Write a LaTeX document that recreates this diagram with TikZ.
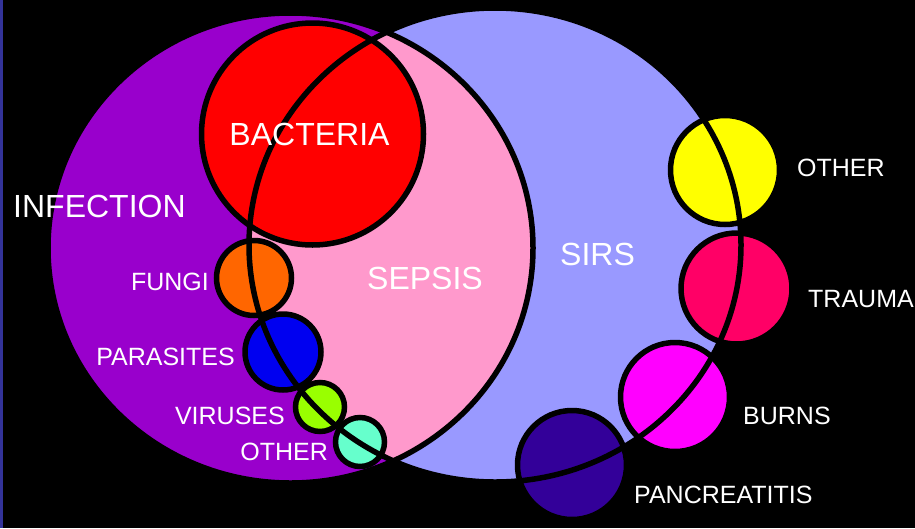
\documentclass[tikz,border=0pt]{standalone}
\usepackage{fontspec}
\setmainfont{Liberation Sans}
\definecolor{bgstrip}{RGB}{51,51,153}
\definecolor{infect}{RGB}{153,0,204}
\definecolor{sirs}{RGB}{153,153,255}
\definecolor{sepsis}{RGB}{255,153,204}
\definecolor{cbact}{RGB}{255,0,0}
\definecolor{cfungi}{RGB}{255,102,0}
\definecolor{cpara}{RGB}{0,0,240}
\definecolor{cvir}{RGB}{153,255,0}
\definecolor{cothl}{RGB}{102,255,204}
\definecolor{cothr}{RGB}{255,255,0}
\definecolor{ctrau}{RGB}{255,0,102}
\definecolor{cburn}{RGB}{255,0,255}
\definecolor{cpanc}{RGB}{51,0,153}
\tikzset{
  outline/.style={draw=black, line width=5.5pt},
  biglabel/.style={text=white, inner sep=0pt, font=\fontsize{32}{32}\selectfont},
  smalllabel/.style={text=white, inner sep=0pt, font=\fontsize{25}{25}\selectfont},
  blob/.style={circle, outline, inner sep=0pt, minimum size=#1}
}
\begin{document}
\begin{tikzpicture}[x=1pt,y=-1pt]
\useasboundingbox (0,0) rectangle (915,528);
\fill[black] (0,0) rectangle (915,528);
\fill[bgstrip] (0,0) rectangle (3,528);
% big ellipses
\fill[infect] (290.5,248) ellipse[x radius=242.5pt, y radius=235pt];
\fill[sirs] (495,245) ellipse[x radius=246pt, y radius=237pt];
\begin{scope}
  \clip (290.5,248) ellipse[x radius=242.5pt, y radius=235pt];
  \fill[sepsis] (495,245) ellipse[x radius=246pt, y radius=237pt];
\end{scope}
\draw[outline] (290.5,248) ellipse[x radius=242.5pt, y radius=235pt];
% small circles
\node[blob=222pt, fill=cbact] (bact) at (312.5,134) {};
\node[blob=75pt, fill=cfungi] (fungi) at (254,278) {};
\node[blob=76pt, fill=cpara] (para) at (283,352) {};
\node[blob=49pt, fill=cvir] (vir) at (320,407) {};
\node[blob=49pt, fill=cothl] (othl) at (360,442) {};
\node[blob=109pt, fill=cothr] (othr) at (725,170) {};
\node[blob=111pt, fill=ctrau] (trau) at (736.5,288.5) {};
\node[blob=109pt, fill=cburn] (burn) at (675,397) {};
\node[blob=109pt, fill=cpanc] (panc) at (572,465) {};
\draw[outline] (495,245) ellipse[x radius=246pt, y radius=237pt];
% labels
\node[biglabel, anchor=west] (linf) at (13,206) {INFECTION};
\node[biglabel] (lbact) at (309.5,134) {BACTERIA};
\node[biglabel] (lsep) at (425,278) {SEPSIS};
\node[biglabel] (lsirs) at (597.5,254) {SIRS};
\node[smalllabel, anchor=east] (lfungi) at (209,282) {FUNGI};
\node[smalllabel, anchor=east] (lpara) at (235,357) {PARASITES};
\node[smalllabel, anchor=east] (lvir) at (285,416) {VIRUSES};
\node[smalllabel, anchor=east] (lothl) at (328,452) {OTHER};
\node[smalllabel, anchor=west] (lothr) at (797,167.5) {OTHER};
\node[smalllabel, anchor=west] (ltrau) at (808,299) {TRAUMA};
\node[smalllabel, anchor=west] (lburn) at (743,416) {BURNS};
\node[smalllabel, anchor=west] (lpanc) at (634,494.5) {PANCREATITIS};
\end{tikzpicture}
\end{document}
